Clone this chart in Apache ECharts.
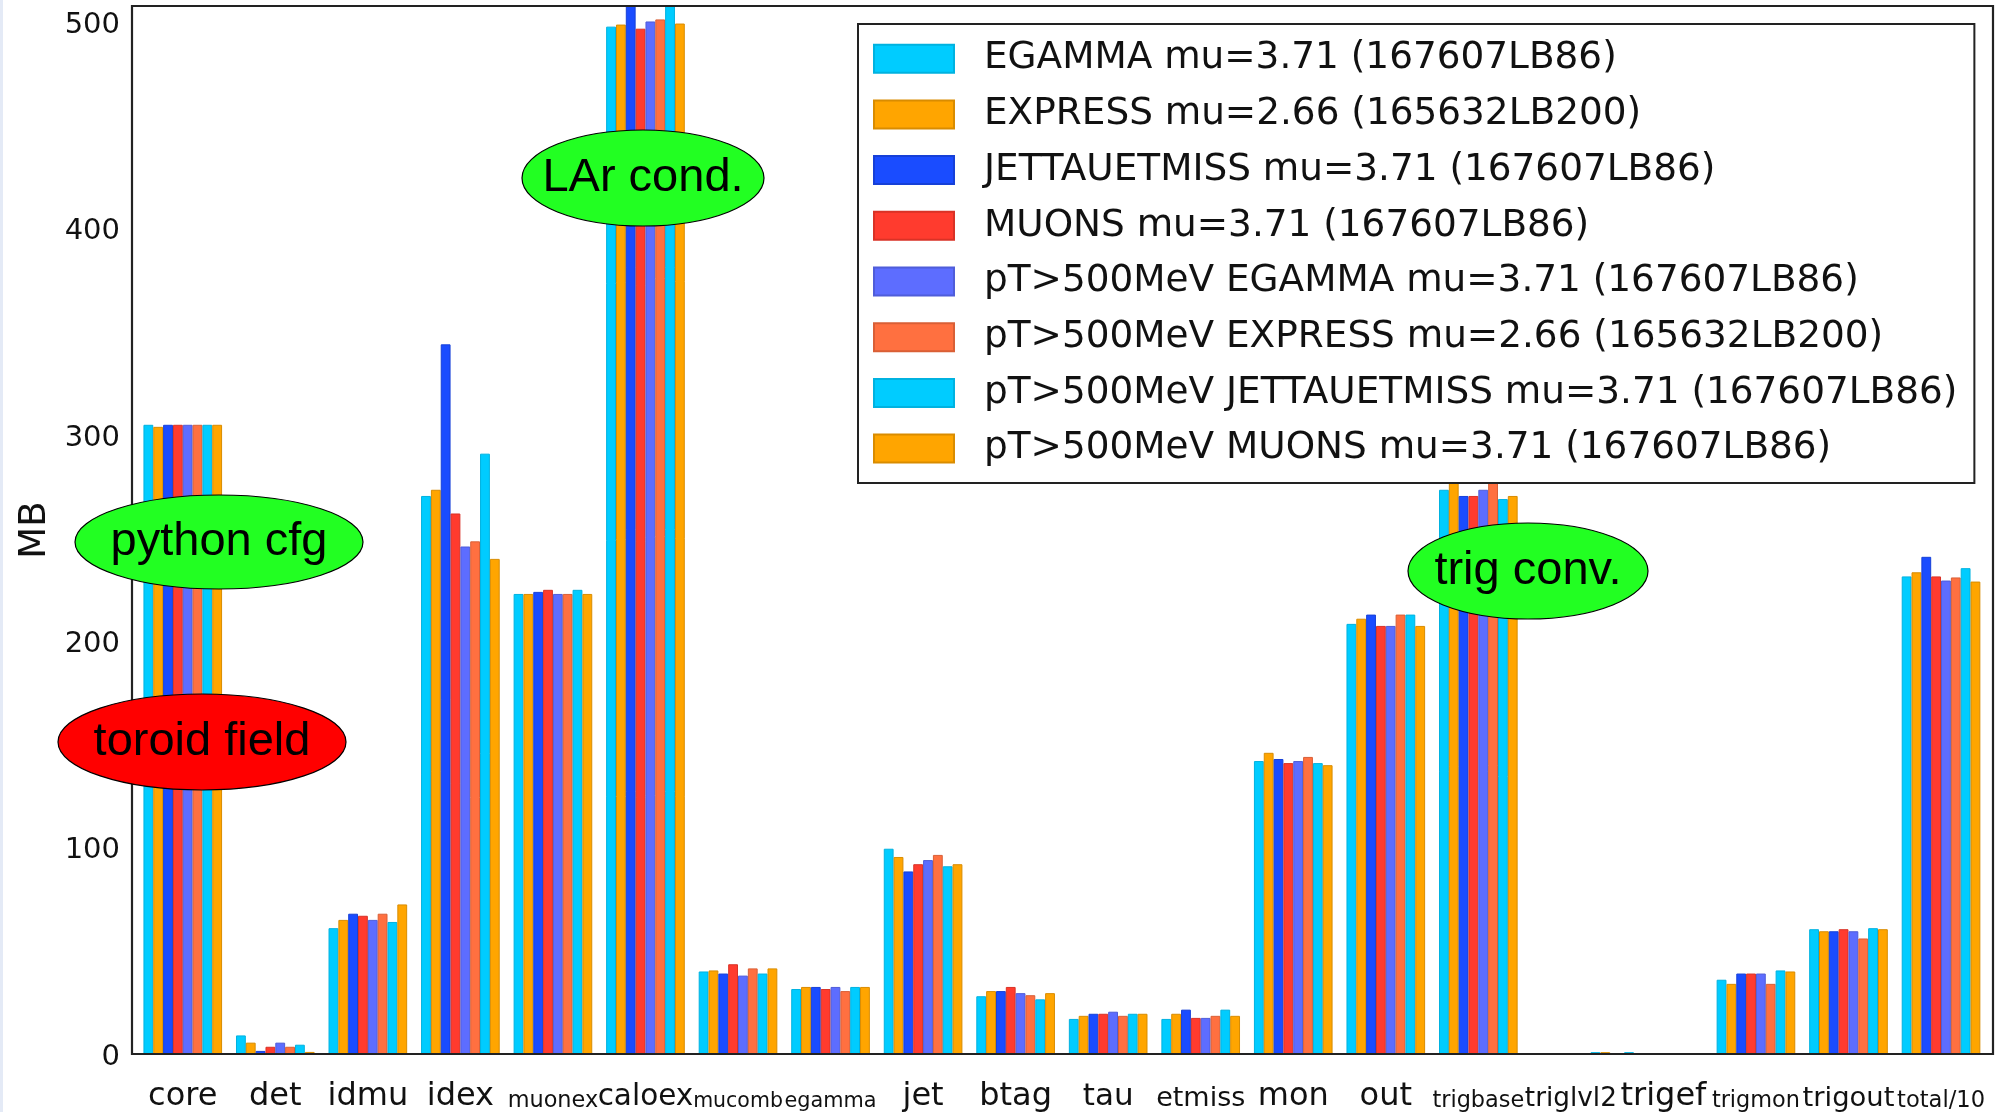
<!DOCTYPE html>
<html><head><meta charset="utf-8">
<script src="https://cdn.jsdelivr.net/npm/echarts@6/dist/echarts.min.js"></script>
<style>html,body{margin:0;padding:0;background:#fff}#c{width:2006px;height:1112px}</style>
</head><body><div id="c"></div>
<script>
const categories = ['core','det','idmu','idex','muonex','caloex','mucomb','egamma','jet','btag','tau','etmiss','mon','out','trigbase','triglvl2','trigef','trigmon','trigout','total/10'];
const seriesNames = [
  'EGAMMA mu=3.71 (167607LB86)',
  'EXPRESS mu=2.66 (165632LB200)',
  'JETTAUETMISS mu=3.71 (167607LB86)',
  'MUONS mu=3.71 (167607LB86)',
  'pT>500MeV EGAMMA mu=3.71 (167607LB86)',
  'pT>500MeV EXPRESS mu=2.66 (165632LB200)',
  'pT>500MeV JETTAUETMISS mu=3.71 (167607LB86)',
  'pT>500MeV MUONS mu=3.71 (167607LB86)'
];
const egamma    = [305, 9,   61,   270.5, 223, 498,   40,   31.5, 99.5, 28,   17,   17,   142, 208.5, 273.5, 0.4, 0.9, 36,   60.5, 231.5];
const express   = [304, 5.5, 65,   273.5, 223, 499,   40.5, 32.5, 95.5, 30.5, 18.5, 19.5, 146, 211,   279,   0.4, 0.3, 34,   59.5, 233.5];
const jettau    = [305, 1.5, 68,   344,   224, 515,   39,   32.5, 88.5, 30.5, 19.5, 21.5, 143, 213,   270.5, 0.3, 0.3, 39,   59.5, 241];
const muons     = [305, 3.5, 67,   262,   225, 497,   43.5, 31.5, 92,   32.5, 19.5, 17.5, 141, 207.5, 270.5, 0.3, 0.3, 39,   60.5, 231.5];
const ptEgamma  = [305, 5.5, 65,   246,   223, 500.5, 38,   32.5, 94,   29.5, 20.5, 17.5, 142, 207.5, 273.5, 0.3, 0.3, 39,   59.5, 229.5];
const ptExpress = [305, 3.5, 68,   248.5, 223, 501.5, 41.5, 30.5, 96.5, 28.5, 18.5, 18.5, 144, 213,   280,   0.3, 0.3, 34,   56,   231];
const ptJettau  = [305, 4.5, 64,   291,   225, 512,   39,   32.5, 91,   26.5, 19.5, 21.5, 141, 213,   269,   0.9, 0.3, 40.5, 61,   235.5];
const ptMuons   = [305, 1,   72.5, 240,   223, 499.5, 41.5, 32.5, 92,   29.5, 19.5, 18.5, 140, 207.5, 270.5, 0.9, 0.2, 40,   60.5, 229];
const yTicks = [0, 100, 200, 300, 400, 500];
const annotations = [
  {text: 'python cfg', color: '#22ff22'},
  {text: 'toroid field', color: '#ff0000'},
  {text: 'LAr cond.', color: '#22ff22'},
  {text: 'trig conv.', color: '#22ff22'}
];

// styles (kept apart from the data)
const labelFontSizes = [32,32,32,32,22.4,29.5,20.5,20.8,32,32,31,27,32,32,22.4,26.3,32,22.4,27.4,22.6];
const fills   = ['#00ccff','#ffa500','#1a4cff','#ff3b2e','#5d6dff','#ff7040','#00ccff','#ffa500'];
const borders = ['#00b2e0','#d98c00','#1640d8','#d93226','#4f5dd9','#d95f36','#00b2e0','#d98c00'];
const annotationGeom = [
  {cx: 219, cy: 542, rx: 144, ry: 47},
  {cx: 202, cy: 742, rx: 144, ry: 48},
  {cx: 643, cy: 178, rx: 121, ry: 48},
  {cx: 1528, cy: 571, rx: 120, ry: 48}
];

const seriesData = [egamma, express, jettau, muons, ptEgamma, ptExpress, ptJettau, ptMuons];
const yMax = 508;

const chart = echarts.init(document.getElementById('c'), null, {renderer: 'canvas'});

const graphics = [
  {type: 'rect', silent: true, z: 1, shape: {x: 0, y: 0, width: 3, height: 1112}, style: {fill: '#e4eaf6'}},
  {type: 'rect', silent: true, z: 50, shape: {x: 132, y: 6, width: 1861, height: 1048},
   style: {fill: null, stroke: '#222', lineWidth: 2.2}}
];
annotations.forEach((a, i) => {
  const g = annotationGeom[i];
  graphics.push({type: 'ellipse', silent: true, z: 60, shape: {cx: g.cx, cy: g.cy, rx: g.rx, ry: g.ry},
    style: {fill: a.color, stroke: '#000', lineWidth: 1.2}});
  graphics.push({type: 'text', silent: true, z: 61, x: g.cx, y: g.cy,
    style: {text: a.text, fill: '#000', font: '47px "Liberation Sans", Arial, sans-serif',
      align: 'center', verticalAlign: 'middle'}});
});

const tickStyle = {inside: true, length: 11, lineStyle: {color: '#222', width: 1.5}};
// bottom-align labels of different sizes: top-aligned box whose line height centres each one
const labelMargin = 19;

chart.setOption({
  animation: false,
  backgroundColor: '#fff',
  grid: {left: 136.5, right: 18.7, top: 6, bottom: 58, containLabel: false, outerBoundsMode: 'none'},
  xAxis: {
    type: 'category',
    boundaryGap: true,
    data: categories.map((c, i) => ({value: c, textStyle: {fontSize: labelFontSizes[i], lineHeight: 78.8 - labelFontSizes[i]}})),
    axisLine: {show: false},
    axisTick: {show: false},
    axisLabel: {interval: 0, fontFamily: 'DejaVu Sans', color: '#111', margin: labelMargin}
  },
  yAxis: [
    {
      type: 'value', min: 0, max: yMax, interval: 100, position: 'left', offset: 4.5,
      axisLine: {show: false}, axisTick: tickStyle, splitLine: {show: false},
      axisLabel: {fontFamily: 'DejaVu Sans', fontSize: 29, color: '#111', margin: 12, showMaxLabel: false,
        verticalAlign: 'top', lineHeight: 6,
        formatter: v => (yTicks.indexOf(v) >= 0 ? String(v) : '')},
      name: 'MB', nameLocation: 'middle', nameGap: 74,
      nameTextStyle: {fontFamily: 'DejaVu Sans', fontSize: 37, color: '#111'}
    },
    {
      type: 'value', min: 0, max: yMax, interval: 100, position: 'right', offset: 5.7,
      axisLine: {show: false}, axisTick: tickStyle, splitLine: {show: false},
      axisLabel: {show: false}
    }
  ],
  legend: {
    orient: 'vertical', left: 858, top: 24,
    padding: [16.2, 17, 16, 15],
    itemWidth: 80, itemHeight: 28, itemGap: 18.7,
    backgroundColor: '#fff', borderColor: '#222', borderWidth: 2,
    icon: 'rect',
    textStyle: {fontFamily: 'DejaVu Sans', fontSize: 37.4, color: '#111', lineHeight: 37, padding: [0, 0, 0, 25]},
    data: seriesNames
  },
  series: seriesNames.map((n, i) => ({
    name: n, type: 'bar', data: seriesData[i], yAxisIndex: 0,
    barWidth: 9.83, barGap: '0%', clip: true,
    itemStyle: {color: fills[i], borderColor: borders[i], borderWidth: 1}
  })),
  graphic: graphics
});
</script>
</body></html>
